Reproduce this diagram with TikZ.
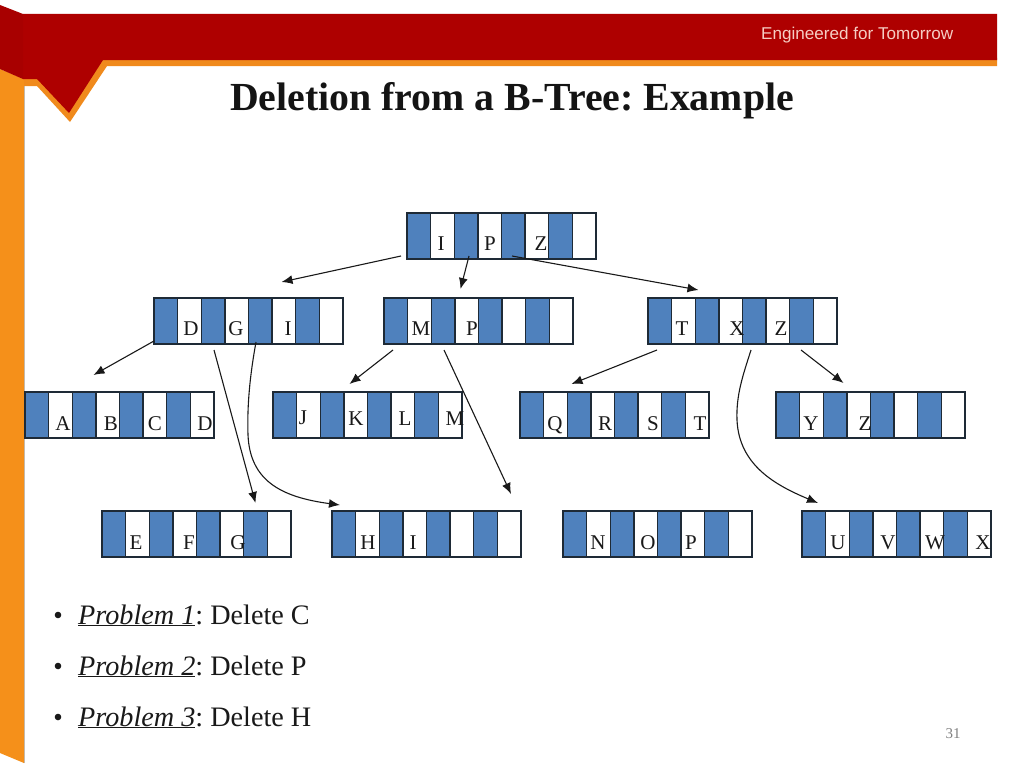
\documentclass[tikz,border=0pt]{standalone}
\usepackage{fontspec}
\setmainfont{Liberation Serif}
\newfontfamily\hdrfont{Liberation Sans}
\usetikzlibrary{arrows.meta}
\frenchspacing
\definecolor{hdrred}{HTML}{AE0000}
\definecolor{hdrdark}{HTML}{A80000}
\definecolor{hdrorange}{HTML}{F08A1C}
\definecolor{strip}{HTML}{F5901A}
\definecolor{cellblue}{HTML}{4F81BD}
\definecolor{celledge}{HTML}{1E2A36}
\tikzset{
  btbox/.style={draw=celledge,line width=1.3pt,minimum width=189pt,minimum height=46pt,inner sep=0pt,outer sep=0pt,anchor=north west},
  lab/.style={font=\fontsize{21}{24}\selectfont,anchor=base,inner sep=0pt,text=black!90},
  link/.style={line width=1.1pt,black!90,-{Latex[length=11pt,width=9pt]}},
  item/.style={font=\fontsize{28.2}{32}\selectfont,anchor=base west,inner sep=0pt,text=black!90},
}
\newcommand{\btree}[3]{%
  \begin{scope}[shift={(#2,#3)}]
    \node[btbox] (#1) at (0,0) {};
    \foreach \k in {0,1,2,3}{
      \fill[cellblue] (\k*47.25,0) rectangle (\k*47.25+23.625,46);
    }
    \foreach \k in {1,...,7}{
      \draw[celledge,line width=1.3pt] (\k*23.625,0) -- (\k*23.625,46);
    }
    \draw[celledge,line width=1.3pt] (0,0) rectangle (189,46);
  \end{scope}}
\begin{document}
\begin{tikzpicture}[x=1pt,y=-1pt]
\useasboundingbox (0,0) rectangle (1024,768);
\fill[white] (0,0) rectangle (1024,768);
% banner
\fill[black!25] (25,85) -- (25,763) -- (23,763) -- (23,85) -- cycle;
\fill[strip] (0,69) -- (24,79) -- (24,763) -- (0,753) -- cycle;
\fill[hdrorange] (24,79) -- (24,86) -- (37,86) -- (70,122) -- (107,66) -- (997,66) -- (997,58) -- (100,58) -- cycle;
\fill[hdrred] (23,14) -- (997,14) -- (997,60) -- (103,60) -- (69,113) -- (37,79) -- (23,79) -- cycle;
\fill[hdrdark] (0,5) -- (23,14) -- (23,79) -- (0,69) -- cycle;
\node[anchor=base west,inner sep=0pt,font=\hdrfont\fontsize{17.1}{20}\selectfont,text={rgb,255:red,246;green,205;blue,195}] (tag) at (761,40) {Engineered for Tomorrow};
\node[anchor=base,inner sep=0pt,font=\fontsize{39.8}{44}\selectfont\bfseries,text=black!92] (title) at (512,110) {Deletion from a B-Tree: Example};
% tree nodes
\btree{root}{407}{213}
\btree{na}{154}{298}
\btree{nb}{384}{298}
\btree{nc}{648}{298}
\btree{la}{25}{392}
\btree{lb}{273}{392}
\btree{lc}{520}{392}
\btree{ld}{776}{392}
\btree{ba}{102}{511}
\btree{bb}{332}{511}
\btree{bc}{563}{511}
\btree{bd}{802}{511}
% keys
\node[lab] (r1) at (441,250) {I};
\node[lab] (r2) at (490,250) {P};
\node[lab] (r3) at (541,250) {Z};
\node[lab] (a1) at (191,335) {D};
\node[lab] (a2) at (236,335) {G};
\node[lab] (a3) at (288,335) {I};
\node[lab] (b1) at (421,335) {M};
\node[lab] (b2) at (472,335) {P};
\node[lab] (c1) at (682,335) {T};
\node[lab] (c2) at (737,335) {X};
\node[lab] (c3) at (781,335) {Z};
\node[lab] (la1) at (63,430) {A};
\node[lab] (la2) at (111,430) {B};
\node[lab] (la3) at (155,430) {C};
\node[lab] (la4) at (205,430) {D};
\node[lab] (lb1) at (303,424) {J};
\node[lab] (lb2) at (356,425) {K};
\node[lab] (lb3) at (405,425) {L};
\node[lab] (lb4) at (455,425) {M};
\node[lab] (lc1) at (555,430) {Q};
\node[lab] (lc2) at (605,430) {R};
\node[lab] (lc3) at (653,430) {S};
\node[lab] (lc4) at (700,430) {T};
\node[lab] (ld1) at (811,430) {Y};
\node[lab] (ld2) at (865,430) {Z};
\node[lab] (ba1) at (136,549) {E};
\node[lab] (ba2) at (189,549) {F};
\node[lab] (ba3) at (238,549) {G};
\node[lab] (bb1) at (368,549) {H};
\node[lab] (bb2) at (413,549) {I};
\node[lab] (bc1) at (598,549) {N};
\node[lab] (bc2) at (648,549) {O};
\node[lab] (bc3) at (691,549) {P};
\node[lab] (bd1) at (838,549) {U};
\node[lab] (bd2) at (888,549) {V};
\node[lab] (bd3) at (935,549) {W};
\node[lab] (bd4) at (983,549) {X};
% connectors (free-floating ends, offset from the named nodes)
\draw[link] ([shift={(-6,-3)}]root.south west) -- ([shift={(33,-16)}]na.north);
\draw[link] ([shift={(62,-3)}]root.south west) -- ([shift={(-18,-9)}]nb.north);
\draw[link] ([shift={(105,-3)}]root.south west) -- ([shift={(-44,-8)}]nc.north);
\draw[link] ([shift={(0,-3)}]na.south west) -- ([shift={(-26,-17)}]la.north);
\draw[link] ([shift={(60,6)}]na.south west) -- ([shift={(59,-8)}]ba.north);
\draw[link] ([shift={(102,-2)}]na.south west)
  .. controls ([shift={(96,31)}]na.south west) and ([shift={(93,61)}]na.south west) .. ([shift={(94,91)}]na.south west)
  .. controls ([shift={(96,136)}]na.south west) and ([shift={(-52,-14)}]bb.north west) .. ([shift={(8,-6)}]bb.north west);
\draw[link] ([shift={(9,6)}]nb.south west) -- ([shift={(-18,-8)}]lb.north);
\draw[link] ([shift={(60,6)}]nb.south west) -- ([shift={(-10,-17)}]bb.north east);
\draw[link] ([shift={(9,6)}]nc.south west) -- ([shift={(-43,-8)}]lc.north);
\draw[link] ([shift={(103,6)}]nc.south west)
  .. controls ([shift={(95,31)}]nc.south west) and ([shift={(88,51)}]nc.south west) .. ([shift={(89,76)}]nc.south west)
  .. controls ([shift={(91,121)}]nc.south west) and ([shift={(-27,-26)}]bd.north west) .. ([shift={(16,-8)}]bd.north west);
\draw[link] ([shift={(-36,6)}]nc.south east) -- ([shift={(-27,-9)}]ld.north);
% problems
\foreach \n/\yy/\t/\k in {1/624/C/i1,2/675/P/i2,3/726/H/i3}{
  \fill[black!90] (58,\yy-9) circle (3.3pt);
  \node[item] (\k) at (78,\yy) {\underline{\textit{Problem \n}}: Delete \t};
}
\node[anchor=base,inner sep=0pt,font=\fontsize{15}{18}\selectfont,text=black!50] (pg) at (953,738) {31};
\end{tikzpicture}
\end{document}
